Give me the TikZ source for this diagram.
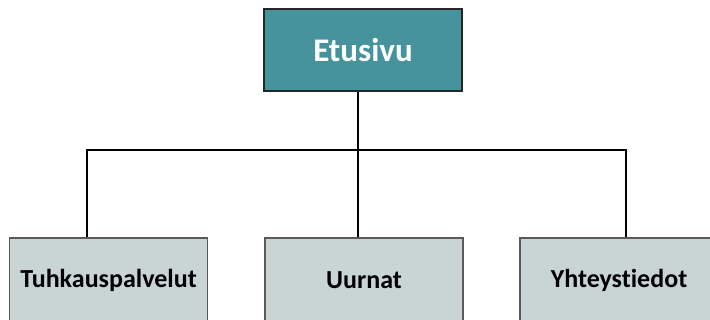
\documentclass[tikz,border=0pt]{standalone}
\usepackage{fontspec}
\setmainfont{Carlito}[Ligatures=NoCommon]
\definecolor{etuteal}{HTML}{46939D}
\definecolor{alagray}{HTML}{C9D5D5}
\tikzset{
  etubox/.style={draw=black!85,line width=1.2pt,fill=etuteal,text=white,
    minimum width=198pt,minimum height=82pt,inner sep=0pt,
    font=\fontsize{33}{38}\selectfont\bfseries},
  alabox/.style={draw=black!65,line width=1.2pt,fill=alagray,text=black,
    minimum width=198pt,minimum height=84pt,inner sep=0pt,
    font=\fontsize{26}{30}\selectfont\bfseries},
  yhteys/.style={draw=black,line width=1.3pt}
}
\begin{document}
\begin{tikzpicture}[x=1pt,y=-1pt]
\useasboundingbox (0,0) rectangle (710,320);
\clip (0,0) rectangle (710,320);
\fill[white] (0,0) rectangle (710,320);
\node[etubox] (etusivu) at (363,50) {Etusivu};
\node[alabox] (tuhkaus) at (108.5,280) {Tuhkauspalvelut};
\node[alabox] (uurnat) at (364,280) {Uurnat};
\node[alabox] (yhteys) at (619,280) {Yhteystiedot};
\coordinate (haara) at (358,150);
\draw[yhteys] ([xshift=-5pt]etusivu.south) -- ([xshift=-6pt]uurnat.north);
\draw[yhteys] ([xshift=-21.5pt]tuhkaus.north) |- (haara) -| ([xshift=7pt]yhteys.north);
\end{tikzpicture}
\end{document}
